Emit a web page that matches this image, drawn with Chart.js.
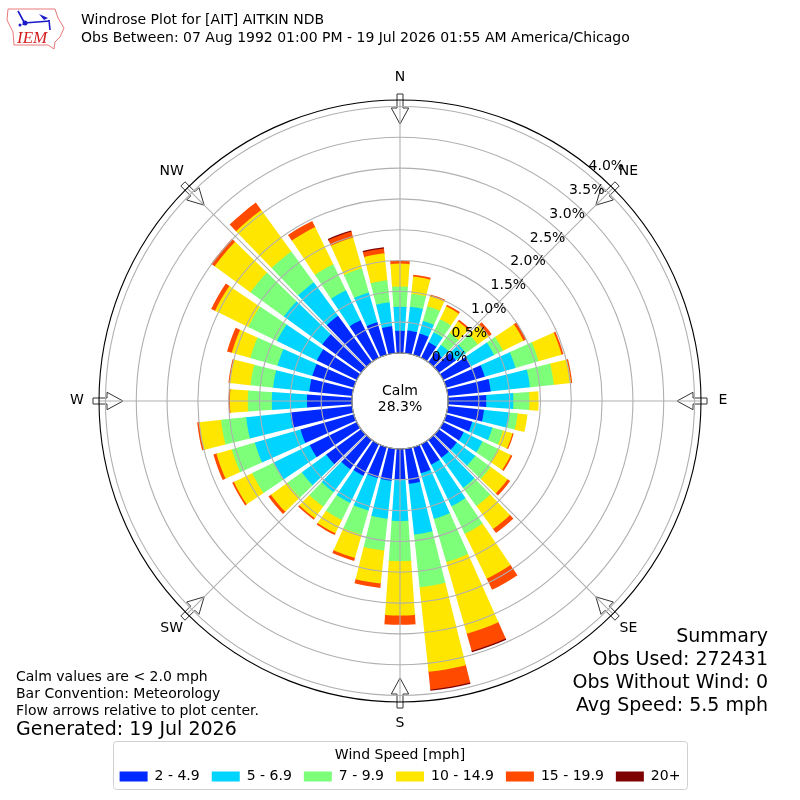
<!DOCTYPE html>
<html>
<head>
<meta charset="utf-8">
<title>Windrose</title>
<script src="https://cdn.jsdelivr.net/npm/chart.js@4/dist/chart.umd.js"></script>
<style>
  html, body { margin: 0; background: #fff; }
  canvas { display: block; }
</style>
</head>
<body>
<canvas id="rose" width="800" height="800"></canvas>
<script>
// percent of obs per 10 degree direction, starting at N and going clockwise
const directions = ["0","10","20","30","40","50","60","70","80","90","100","110","120","130","140","150","160","170",
  "180","190","200","210","220","230","240","250","260","270","280","290","300","310","320","330","340","350"]
const speed2to5 = [.36,.37,.36,.28,.20,.34,.50,.65,.70,.62,.59,.44,.37,.36,.36,.37,.44,.57,
  .49,.52,.52,.57,.59,.70,.85,.90,1.01,.73,.70,.70,.72,.78,.93,.68,.55,.44]
const speed5to7 = [.39,.39,.21,.18,.15,.20,.42,.52,.64,.44,.42,.34,.34,.37,.60,.75,.77,.83,
  .68,.62,.55,.49,.46,.49,.65,.77,.72,.57,.59,.59,.72,.77,.67,.54,.50,.39]
const speed7to10 = [.33,.21,.25,.24,.24,.24,.16,.39,.39,.26,.13,.18,.28,.31,.37,.50,.73,.86,
  .65,.52,.41,.31,.29,.29,.39,.39,.41,.39,.37,.46,.52,.67,.62,.47,.41,.36]
const speed10to15 = [.37,.28,.17,.23,.23,.23,.37,.39,.28,.15,.16,.16,.23,.34,.46,.81,1.21,1.38,
  .88,.54,.39,.24,.23,.33,.33,.26,.36,.29,.34,.31,.60,.72,.83,.67,.52,.44]
const speed15to20 = [.05,.03,.03,.03,.03,.05,.05,.03,.02,0,0,.02,.03,.05,.08,.20,.29,.29,
  .15,.07,.05,.03,.03,.05,.03,.05,.03,.02,.02,.08,.07,.07,.15,.11,.10,.08]
const speed20up = [0,0,0,0,0,0,0,0,0,0,0,0,0,0,0,0,.02,.02,
  0,0,0,0,0,0,0,0,0,0,0,0,0,0,0,0,.02,.02]

const speedLabels = ["2 - 4.9", "5 - 6.9", "7 - 9.9", "10 - 14.9", "15 - 19.9", "20+"]
const speedColors = ["#0029ff", "#00d4ff", "#7dff7a", "#ffe600", "#ff4a00", "#7f0000"]
const speedSeries = [speed2to5, speed5to7, speed7to10, speed10to15, speed15to20, speed20up]

const tickValues = [0, 0.5, 1, 1.5, 2, 2.5, 3, 3.5, 4]
const compass = ["N", "NE", "E", "SE", "S", "SW", "W", "NW"]
const fontName = "'DejaVu Sans'"

// each bar covers 8 degrees, then an empty 2 degree slot
const labels = directions.flatMap((d) => [d, ""])
const running = directions.map(() => 0)
const datasets = speedSeries.map((series, s) => {
  const data = []
  series.forEach((v, i) => {
    running[i] += v
    data.push(running[i], 0)
  })
  return {
    label: speedLabels[s],
    data: data,
    backgroundColor: speedColors[s],
    borderWidth: 0,
    angle: (ctx) => (ctx.index % 2 ? 2 : 8),
  }
})

function polar(scale, deg, r) {
  const a = (deg * Math.PI) / 180
  return [scale.xCenter + r * Math.sin(a), scale.yCenter - r * Math.cos(a)]
}

function text(ctx, str, x, y, size, align, color) {
  ctx.font = size + "px " + fontName
  ctx.textAlign = align || "left"
  ctx.textBaseline = "middle"
  ctx.fillStyle = color || "#000"
  ctx.fillText(str, x, y)
}

function drawLogo(ctx) {
  ctx.save()
  ctx.strokeStyle = "#e87878"
  ctx.lineWidth = 1
  ctx.beginPath()
  ctx.moveTo(8, 9)
  ctx.lineTo(55, 9)
  ctx.lineTo(58, 18)
  ctx.lineTo(64, 28)
  ctx.lineTo(60, 37)
  ctx.lineTo(55, 42)
  ctx.lineTo(54, 49)
  ctx.lineTo(48, 45)
  ctx.lineTo(14, 45)
  ctx.lineTo(13, 32)
  ctx.lineTo(7, 20)
  ctx.closePath()
  ctx.stroke()
  ctx.strokeStyle = "#1a1ac8"
  ctx.fillStyle = "#1a1ac8"
  ctx.lineWidth = 1.6
  ctx.beginPath()
  ctx.moveTo(24, 23)
  ctx.lineTo(50, 21)
  ctx.moveTo(49, 20)
  ctx.lineTo(50, 30)
  ctx.moveTo(18, 11)
  ctx.lineTo(24, 22)
  ctx.stroke()
  ctx.beginPath()
  ctx.arc(25, 23, 2.5, 0, Math.PI * 2)
  ctx.arc(20, 25, 1.5, 0, Math.PI * 2)
  ctx.fill()
  ctx.beginPath()
  ctx.moveTo(39, 14)
  ctx.lineTo(48, 18)
  ctx.lineTo(44, 20)
  ctx.closePath()
  ctx.fill()
  ctx.font = "italic 17px 'Liberation Serif'"
  ctx.fillStyle = "#d42020"
  ctx.textAlign = "left"
  ctx.textBaseline = "alphabetic"
  ctx.fillText("IEM", 17, 43)
  ctx.restore()
}

const rosePlugin = {
  id: "rose",
  beforeDatasetsDraw(chart) {
    // turn the polar wedges into stacked rings, 1px tucked under the ring below
    const scale = chart.scales.r
    datasets.forEach((ds, s) => {
      if (s === 0) return
      const prev = datasets[s - 1].data
      chart.getDatasetMeta(s).data.forEach((arc, j) => {
        if (ds.data[j] === prev[j]) {
          arc.innerRadius = 0
          arc.outerRadius = 0
        } else {
          arc.innerRadius = scale.getDistanceFromCenterForValue(prev[j]) - 1
        }
      })
    })
  },
  afterDatasetsDraw(chart) {
    const ctx = chart.ctx
    const scale = chart.scales.r
    const outer = scale.getDistanceFromCenterForValue(scale.max)
    const hole = scale.getDistanceFromCenterForValue(0)
    ctx.save()
    // flow arrows, white inside with the spoke showing through
    compass.forEach((name, i) => {
      const deg = i * 45
      const off = (r, d) => {
        const [x, y] = polar(scale, deg, r)
        const a = (deg * Math.PI) / 180
        return [x + d * Math.cos(a), y + d * Math.sin(a)]
      }
      const pts = [off(307, -3), off(307, 3), off(293, 3), off(293, 8.7), off(277, 0), off(293, -8.7), off(293, -3)]
      ctx.beginPath()
      pts.forEach((p, k) => (k ? ctx.lineTo(p[0], p[1]) : ctx.moveTo(p[0], p[1])))
      ctx.closePath()
      ctx.fillStyle = "#fff"
      ctx.fill()
      ctx.strokeStyle = "#333"
      ctx.lineWidth = 1
      ctx.stroke()
    })
    ctx.strokeStyle = "#b0b0b0"
    ctx.lineWidth = 1.1
    compass.forEach((name, i) => {
      const a = polar(scale, i * 45, hole)
      const b = polar(scale, i * 45, outer)
      ctx.beginPath()
      ctx.moveTo(a[0], a[1])
      ctx.lineTo(b[0], b[1])
      ctx.stroke()
    })
    // hole for the calm value
    ctx.beginPath()
    ctx.arc(scale.xCenter, scale.yCenter, hole, 0, Math.PI * 2)
    ctx.fillStyle = "#fff"
    ctx.fill()
    ctx.strokeStyle = "#000"
    ctx.stroke()
    ctx.beginPath()
    ctx.arc(scale.xCenter, scale.yCenter, outer, 0, Math.PI * 2)
    ctx.strokeStyle = "#000"
    ctx.stroke()
    ctx.restore()
  },
  afterDraw(chart) {
    const ctx = chart.ctx
    const scale = chart.scales.r
    ctx.save()
    drawLogo(ctx)
    text(ctx, "Windrose Plot for [AIT] AITKIN NDB", 81, 20, 14)
    text(ctx, "Obs Between: 07 Aug 1992 01:00 PM - 19 Jul 2026 01:55 AM America/Chicago", 81, 38, 14)

    compass.forEach((name, i) => {
      const p = polar(scale, i * 45, 323)
      text(ctx, name, p[0], p[1] - 1, 14, "center")
    })
    tickValues.forEach((v) => {
      const p = polar(scale, 39.5, scale.getDistanceFromCenterForValue(v))
      text(ctx, v.toFixed(1) + "%", p[0] + 19, p[1] - 7, 14, "center")
    })

    text(ctx, "Calm", 400, 391, 14, "center")
    text(ctx, "28.3%", 400, 407, 14, "center")

    text(ctx, "Summary", 768, 637, 19, "right")
    text(ctx, "Obs Used: 272431", 768, 660, 19, "right")
    text(ctx, "Obs Without Wind: 0", 768, 683, 19, "right")
    text(ctx, "Avg Speed: 5.5 mph", 768, 706, 19, "right")

    text(ctx, "Calm values are < 2.0 mph", 16, 677, 14)
    text(ctx, "Bar Convention: Meteorology", 16, 694, 14)
    text(ctx, "Flow arrows relative to plot center.", 16, 711, 14)
    text(ctx, "Generated: 19 Jul 2026", 16, 730, 19)

    // frame round the legend
    ctx.strokeStyle = "#d0d0d0"
    ctx.lineWidth = 1
    ctx.beginPath()
    ctx.roundRect(113.5, 741.5, 574, 48, 3)
    ctx.stroke()
    ctx.restore()
  },
}

new Chart(document.getElementById("rose"), {
  type: "polarArea",
  data: { labels: labels, datasets: datasets },
  options: {
    responsive: false,
    animation: false,
    devicePixelRatio: 1,
    layout: { padding: { top: 100, left: 0, right: 0, bottom: 6.6 } },
    scales: {
      r: {
        min: -0.78,
        max: 4.105,
        startAngle: -4,
        afterBuildTicks: (scale) => {
          scale.ticks = tickValues.map((v) => ({ value: v }))
        },
        ticks: { display: false },
        grid: { circular: true, color: "#b0b0b0", lineWidth: 1.1, z: 1 },
        angleLines: { display: false },
        pointLabels: { display: false },
      },
    },
    plugins: {
      tooltip: { enabled: false },
      subtitle: { display: true, text: "", position: "bottom", weight: 500, font: { size: 1 }, padding: { top: 40.4, bottom: 0 } },
      legend: {
        position: "bottom",
        title: { display: true, text: "Wind Speed [mph]", color: "#000", font: { family: fontName, size: 14 }, padding: { top: 4.4, bottom: -8.2 } },
        labels: {
          boxWidth: 28,
          boxHeight: 10,
          padding: 12,
          color: "#000",
          font: { family: fontName, size: 14 },
          generateLabels: () =>
            speedLabels.map((name, i) => ({ text: name, fillStyle: speedColors[i], strokeStyle: speedColors[i], lineWidth: 0, datasetIndex: i })),
        },
      },
    },
  },
  plugins: [rosePlugin],
})
</script>
</body>
</html>
